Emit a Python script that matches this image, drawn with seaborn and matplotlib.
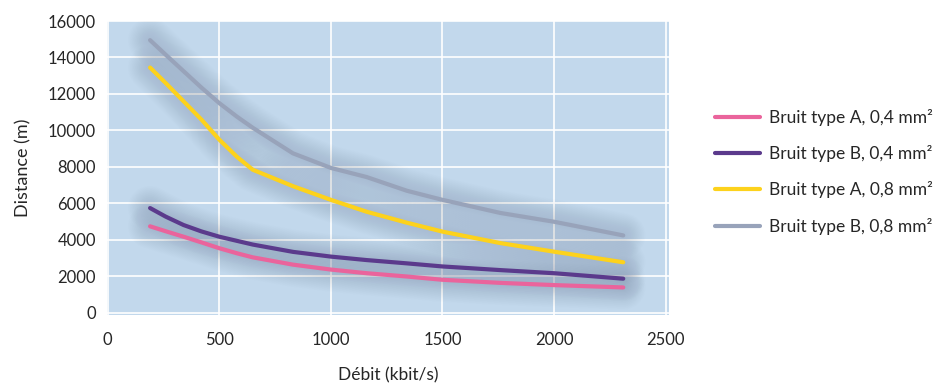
import numpy as np
import pandas as pd
import matplotlib
matplotlib.use('Agg')
import matplotlib.pyplot as plt
import seaborn as sns

# données
debit = [190, 260, 340, 420, 500, 580, 650, 830, 1000, 1160, 1340, 1500, 1760, 2000, 2310]
a_04 = [4750, 4480, 4180, 3870, 3550, 3270, 3050, 2650, 2380, 2180, 2000, 1820, 1650, 1530, 1400]
b_04 = [5750, 5280, 4820, 4470, 4180, 3950, 3750, 3350, 3090, 2900, 2720, 2550, 2350, 2180, 1880]
a_08 = [13450, 12600, 11600, 10600, 9500, 8550, 7850, 6950, 6200, 5550, 4950, 4460, 3830, 3360, 2780]
b_08 = [14950, 14150, 13250, 12350, 11500, 10750, 10150, 8750, 7950, 7450, 6700, 6200, 5480, 5000, 4250]
labels = ['Bruit type A, 0,4 mm²', 'Bruit type B, 0,4 mm²',
          'Bruit type A, 0,8 mm²', 'Bruit type B, 0,8 mm²']
colors = ['#ea649c', '#5b3a8c', '#fdd21c', '#98a3ba']

sns.set_style('white')
plt.rcParams['font.family'] = ['Lato', 'DejaVu Sans']

rows = []
for lab, ys in zip(labels, [a_04, b_04, a_08, b_08]):
    for x, y in zip(debit, ys):
        rows.append({'Débit': x, 'Distance': y, 'serie': lab})
df = pd.DataFrame(rows)

fig = plt.figure(figsize=(9.41, 3.89), dpi=100)
ax = fig.add_axes([107 / 941, 1 - 315 / 389, (669 - 107) / 941, (315 - 21) / 389])
ax.set_facecolor('#c2d8ec')

# ombre floue sous les courbes
for ys in [a_04, b_04, a_08, b_08]:
    for lw in np.linspace(4, 32, 16):
        ax.plot(debit, ys, color='#5a6c85', lw=lw, alpha=0.012,
                solid_capstyle='round', solid_joinstyle='round', zorder=1)

sns.lineplot(data=df, x='Débit', y='Distance', hue='serie', palette=colors,
             hue_order=labels, linewidth=3, ax=ax, zorder=3)

ax.set_xlim(-3, 2515)
ax.set_ylim(-110, 16000)
ax.set_xticks(range(0, 2501, 500))
ax.set_yticks(range(0, 16001, 2000))
ax.grid(True, color='white', linewidth=1.2)
ax.set_axisbelow(True)
for s in ax.spines.values():
    s.set_visible(False)
ax.tick_params(axis='both', length=4, color='#a8bcd6', labelsize=12, width=1)
ax.tick_params(axis='x', pad=8)
ax.tick_params(axis='y', pad=4)
ax.set_xlabel('Débit (kbit/s)', fontsize=12.5, labelpad=14)
ax.set_ylabel('Distance (m)', fontsize=13, labelpad=12)

ax.legend(loc='center left', bbox_to_anchor=(0.7505, 0.558),
          bbox_transform=fig.transFigure, frameon=False, fontsize=12.5,
          handlelength=2.6, handletextpad=0.5, labelspacing=1.1,
          borderpad=0)

fig.savefig('out.png', dpi=100)
